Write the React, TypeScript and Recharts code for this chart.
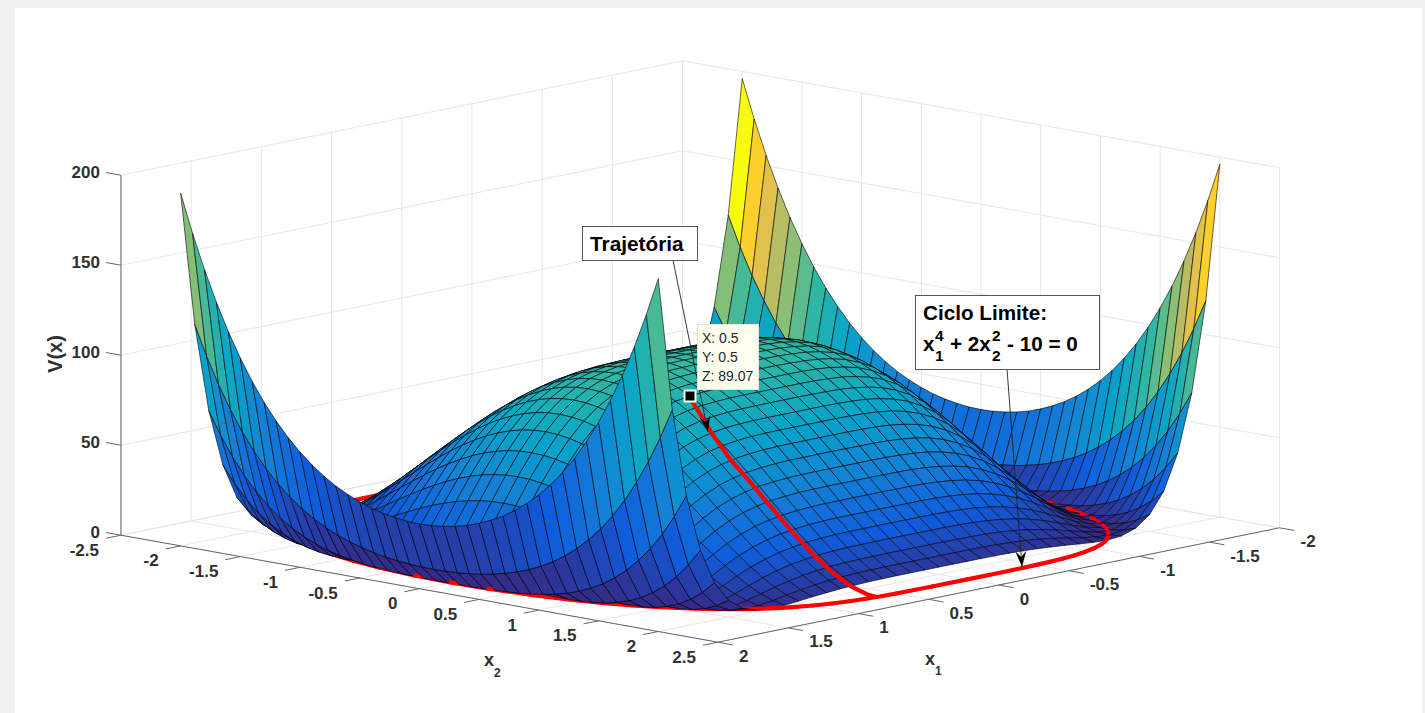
import React from "react";
import { ScatterChart, Scatter, XAxis, YAxis } from "recharts";

// mesh lines of the surface
const x1Values = [-2, -1.9, -1.8, -1.7, -1.6, -1.5, -1.4, -1.3, -1.2, -1.1, -1, -0.9, -0.8, -0.7, -0.6, -0.5, -0.4, -0.3, -0.2, -0.1, 0, 0.1, 0.2, 0.3, 0.4, 0.5, 0.6, 0.7, 0.8, 0.9, 1, 1.1, 1.2, 1.3, 1.4, 1.5, 1.6, 1.7, 1.8, 1.9, 2];
const x2Values = x1Values;

// V(x) for |x1| = 0, 0.1 .. 2 (rows) and |x2| = 0, 0.1 .. 2 (columns)
const vTable = [
  [100, 99.6, 98.4, 96.4, 93.7, 90.3, 86.1, 81.4, 76, 70.2, 64, 57.5, 50.7, 43.8, 37, 30.3, 23.8, 17.8, 12.4, 7.7, 4],
  [100, 99.6, 98.4, 96.4, 93.7, 90.2, 86.1, 81.4, 76, 70.2, 64, 57.5, 50.7, 43.8, 37, 30.2, 23.8, 17.8, 12.4, 7.7, 4],
  [100, 99.6, 98.4, 96.4, 93.7, 90.2, 86.1, 81.3, 76, 70.2, 64, 57.4, 50.7, 43.8, 36.9, 30.2, 23.8, 17.8, 12.4, 7.7, 4],
  [99.8, 99.4, 98.2, 96.3, 93.5, 90.1, 86, 81.2, 75.9, 70.1, 63.9, 57.4, 50.6, 43.7, 36.9, 30.2, 23.7, 17.7, 12.3, 7.7, 4],
  [99.5, 99.1, 97.9, 95.9, 93.2, 89.8, 85.6, 80.9, 75.6, 69.8, 63.6, 57.1, 50.3, 43.5, 36.7, 30, 23.6, 17.6, 12.2, 7.6, 3.9],
  [98.8, 98.4, 97.2, 95.2, 92.5, 89.1, 85, 80.2, 75, 69.2, 63, 56.5, 49.8, 43, 36.2, 29.6, 23.2, 17.3, 12, 7.4, 3.8],
  [97.4, 97, 95.9, 93.9, 91.2, 87.8, 83.7, 79, 73.8, 68.1, 61.9, 55.5, 48.9, 42.1, 35.4, 28.8, 22.6, 16.7, 11.5, 7, 3.5],
  [95.3, 94.9, 93.7, 91.8, 89.1, 85.8, 81.7, 77.1, 71.9, 66.3, 60.2, 53.9, 47.3, 40.7, 34.1, 27.7, 21.5, 15.8, 10.8, 6.5, 3.1],
  [92, 91.6, 90.5, 88.6, 85.9, 82.6, 78.7, 74.1, 69.1, 63.5, 57.6, 51.4, 45, 38.6, 32.2, 25.9, 20, 14.5, 9.7, 5.6, 2.5],
  [87.3, 86.9, 85.8, 84, 81.4, 78.2, 74.4, 70, 65, 59.7, 53.9, 47.9, 41.8, 35.6, 29.4, 23.5, 17.8, 12.7, 8.2, 4.5, 1.8],
  [81, 80.6, 79.6, 77.8, 75.3, 72.3, 68.6, 64.3, 59.6, 54.5, 49, 43.3, 37.5, 31.6, 25.8, 20.3, 15.1, 10.4, 6.4, 3.2, 1],
  [72.9, 72.5, 71.5, 69.8, 67.5, 64.6, 61.1, 57.1, 52.7, 47.8, 42.7, 37.4, 32, 26.6, 21.3, 16.3, 11.7, 7.6, 4.2, 1.7, 0.3],
  [62.8, 62.5, 61.6, 60, 57.9, 55.2, 51.9, 48.3, 44.2, 39.8, 35.1, 30.3, 25.5, 20.7, 16.1, 11.7, 7.9, 4.6, 2.1, 0.5, 0],
  [51, 50.8, 49.9, 48.5, 46.6, 44.1, 41.3, 38, 34.4, 30.5, 26.5, 22.3, 18.2, 14.2, 10.4, 7, 4.1, 1.9, 0.4, 0, 0.7],
  [37.9, 37.7, 37, 35.7, 34.1, 32, 29.6, 26.8, 23.8, 20.6, 17.3, 14, 10.8, 7.7, 5, 2.8, 1.1, 0.1, 0.1, 1.1, 3.4],
  [24.4, 24.2, 23.6, 22.6, 21.3, 19.7, 17.8, 15.7, 13.4, 11, 8.6, 6.3, 4.2, 2.4, 1, 0.2, 0, 0.7, 2.4, 5.2, 9.4],
  [11.9, 11.7, 11.3, 10.7, 9.8, 8.7, 7.4, 6.1, 4.7, 3.3, 2.1, 1.1, 0.3, 0, 0.2, 1.1, 2.8, 5.4, 9.2, 14.2, 20.7],
  [2.7, 2.7, 2.5, 2.2, 1.8, 1.3, 0.9, 0.5, 0.1, 0, 0.1, 0.6, 1.5, 3, 5.2, 8.1, 12.1, 17.1, 23.4, 31.1, 40.4],
  [0.3, 0.3, 0.3, 0.5, 0.7, 1, 1.5, 2.2, 3.2, 4.5, 6.2, 8.5, 11.4, 15, 19.5, 25, 31.6, 39.4, 48.7, 59.6, 72.2],
  [9.2, 9.3, 9.7, 10.3, 11.2, 12.5, 14.1, 16.1, 18.6, 21.6, 25.3, 29.7, 35, 41.1, 48.3, 56.7, 66.5, 77.7, 90.5, 105.1, 121.7],
  [36, 36.2, 37, 38.2, 39.9, 42.3, 45.2, 48.7, 53, 58.1, 64, 70.9, 78.9, 88, 98.4, 110.3, 123.7, 138.8, 155.8, 174.8, 196],
];
const vMax = 196;

// limit cycle, one quarter (x1 >= 0, x2 >= 0)
const cycleX1 = [0, 0.25, 0.5, 0.6, 0.7, 0.8, 0.9, 1, 1.1, 1.15, 1.2, 1.25, 1.3, 1.35, 1.4, 1.45, 1.5, 1.55, 1.6, 1.65, 1.7, 1.74, 1.77, 1.778];
const cycleX2 = [2.236, 2.236, 2.229, 2.222, 2.209, 2.19, 2.161, 2.121, 2.066, 2.031, 1.991, 1.944, 1.89, 1.827, 1.755, 1.67, 1.571, 1.454, 1.313, 1.138, 0.908, 0.646, 0.304, 0];

// trajectory from the data tip to the limit cycle
const trajX1 = [0.5, 0.53, 0.57, 0.6, 0.63, 0.63, 0.63, 0.63, 0.63, 0.63, 0.63, 0.63, 0.63];
const trajX2 = [0.5, 0.57, 0.7, 0.8, 0.99, 1.15, 1.32, 1.49, 1.66, 1.83, 2, 2.14, 2.22];
const trajV = [89.07, 86, 79.5, 73.8, 62.1, 51.8, 40.4, 29.2, 18.8, 9.9, 3.4, 0.46, 0];

const x1Ticks = [-2, -1.5, -1, -0.5, 0, 0.5, 1, 1.5, 2];
const x2Ticks = [-2.5, -2, -1.5, -1, -0.5, 0, 0.5, 1, 1.5, 2, 2.5];
const zTicks = [0, 50, 100, 150, 200];

// parula
const colorStops = ["#352a87", "#0f5cdd", "#1481d6", "#06a4ca", "#2eb7a4", "#87bf77", "#d1bb59", "#fec832", "#f9fb0e"];

const W = 1425;
const H = 713;
const FONT = "'Liberation Sans', Arial, sans-serif";

// view of the box: orthographic, fitted on the axis corners
const project = (x1: number, x2: number, z: number) => ({
  sx: 700.25 + 119.4 * x2 - 140.4 * x1,
  sy: 531.5 + 21.4 * x2 + 28.6 * x1 - 1.8 * z,
});
const groundDepth = (x1: number, x2: number) => 21.4 * x2 + 28.6 * x1;

const vAt = (x1: number, x2: number) =>
  vTable[Math.round(Math.abs(x1) * 10)][Math.round(Math.abs(x2) * 10)];

const hexToRgb = (h: string) => [1, 3, 5].map((i) => parseInt(h.slice(i, i + 2), 16));
function parula(v: number) {
  const t = Math.min(Math.max(v / vMax, 0), 1) * (colorStops.length - 1);
  const i = Math.min(Math.floor(t), colorStops.length - 2);
  const a = hexToRgb(colorStops[i]);
  const b = hexToRgb(colorStops[i + 1]);
  const c = a.map((u, k) => Math.round(u + (b[k] - u) * (t - i)));
  return `rgb(${c[0]},${c[1]},${c[2]})`;
}

// ---- painter's list: mesh cells and limit cycle pieces, far to near ----
type Item = { kind: "cell" | "cycle"; depth: number; verts: { sx: number; sy: number }[]; fill?: string };
const items: Item[] = [];
for (let i = 0; i < x1Values.length - 1; i++) {
  for (let j = 0; j < x2Values.length - 1; j++) {
    const a = x1Values[i];
    const b = x1Values[i + 1];
    const c = x2Values[j];
    const d = x2Values[j + 1];
    items.push({
      kind: "cell",
      depth: groundDepth((a + b) / 2, (c + d) / 2),
      fill: parula(vAt(a, c)),
      verts: [project(a, c, vAt(a, c)), project(b, c, vAt(b, c)), project(b, d, vAt(b, d)), project(a, d, vAt(a, d))],
    });
  }
}
const quarter = cycleX1.map((x, i) => [x, cycleX2[i]]);
const cycleLoop = [
  ...quarter.map(([a, b]) => [a, b]),
  ...quarter.slice().reverse().map(([a, b]) => [a, -b]),
  ...quarter.map(([a, b]) => [-a, -b]),
  ...quarter.slice().reverse().map(([a, b]) => [-a, b]),
];
for (let i = 0; i < cycleLoop.length - 1; i++) {
  const [a, b] = cycleLoop[i];
  const [c, d] = cycleLoop[i + 1];
  if (a === c && b === d) continue;
  items.push({
    kind: "cycle",
    depth: groundDepth((a + c) / 2, (b + d) / 2) + 0.5,
    verts: [project(a, b, 0), project(c, d, 0)],
  });
}
items.sort((p, q) => p.depth - q.depth);
const surfaceData = items.flatMap((it) => it.verts);

// ---- box: grid lines on the back walls and the floor ----
const seg = (a: number[], b: number[]) => [project(a[0], a[1], a[2]), project(b[0], b[1], b[2])];
const gridData = [
  ...x1Ticks.flatMap((t) => [...seg([t, -2.5, 0], [t, -2.5, 200]), ...seg([t, -2.5, 0], [t, 2.5, 0])]),
  ...x2Ticks.flatMap((t) => [...seg([-2, t, 0], [-2, t, 200]), ...seg([-2, t, 0], [2, t, 0])]),
  ...zTicks.flatMap((t) => [...seg([2, -2.5, t], [-2, -2.5, t]), ...seg([-2, -2.5, t], [-2, 2.5, t])]),
];
const axisData = [
  ...seg([2, -2.5, 0], [2, -2.5, 200]),
  ...seg([2, -2.5, 0], [2, 2.5, 0]),
  ...seg([2, 2.5, 0], [-2, 2.5, 0]),
  ...zTicks.flatMap((t) => seg([2, -2.5, t], [2, -2.625, t])),
  ...x2Ticks.flatMap((t) => seg([2, t, 0], [2.107, t, 0])),
  ...x1Ticks.flatMap((t) => seg([t, 2.5, 0], [t, 2.625, 0])),
];
const trajData = trajX1.map((x, i) => project(x, trajX2[i], trajV[i]));

const tickLabelData = [
  ...zTicks.map((t) => ({ ...project(2, -2.5, t), label: String(t), dx: -21, dy: -3, anchor: "end" })),
  ...x2Ticks.map((t) => ({ ...project(2, t, 0), label: String(t), dx: -22, dy: 15, anchor: "end" })),
  ...x1Ticks.map((t) => ({ ...project(t, 2.5, 0), label: String(t), dx: 21, dy: 14, anchor: "start" })),
];

const noDot = () => <g />;

function SegmentLines({ points, stroke, width }: any) {
  const out = [];
  for (let i = 0; i + 1 < points.length; i += 2) {
    out.push(
      <line key={i} x1={points[i].x} y1={points[i].y} x2={points[i + 1].x} y2={points[i + 1].y} stroke={stroke} strokeWidth={width} />
    );
  }
  return <g>{out}</g>;
}

function SurfaceMesh({ points }: any) {
  let k = 0;
  return (
    <g>
      {items.map((it, n) => {
        const pts = points.slice(k, k + it.verts.length);
        k += it.verts.length;
        if (it.kind === "cycle") {
          return (
            <line key={n} x1={pts[0].x} y1={pts[0].y} x2={pts[1].x} y2={pts[1].y} stroke="#ff0000" strokeWidth={4.2} strokeLinecap="round" />
          );
        }
        return (
          <polygon
            key={n}
            points={pts.map((p: any) => `${p.x},${p.y}`).join(" ")}
            fill={it.fill}
            stroke="#000"
            strokeWidth={0.7}
            strokeOpacity={0.85}
            strokeLinejoin="round"
          />
        );
      })}
    </g>
  );
}

function TickLabel(p: any) {
  const d = p.payload;
  return (
    <text x={p.cx + d.dx} y={p.cy + d.dy} textAnchor={d.anchor} dominantBaseline="central" fontFamily={FONT} fontWeight="bold" fontSize={17} fill="#303030">
      {d.label}
    </text>
  );
}

function ArrowHead({ x0, y0, x1, y1 }: { x0: number; y0: number; x1: number; y1: number }) {
  const len = Math.hypot(x1 - x0, y1 - y0);
  const ux = (x1 - x0) / len;
  const uy = (y1 - y0) / len;
  const at = (back: number, side: number) => `${x1 - ux * back - uy * side},${y1 - uy * back + ux * side}`;
  return <polygon points={[at(0, 0), at(16, 5.5), at(10, 0), at(16, -5.5)].join(" ")} fill="#000" />;
}

const annotationStyle = { fontFamily: FONT, fontWeight: "bold" as const, fill: "#000" };

function Annotations() {
  return (
    <g>
      {/* axis titles */}
      <text x={55} y={354} transform="rotate(-90 55 354)" textAnchor="middle" dominantBaseline="central" fontFamily={FONT} fontWeight="bold" fontSize={20} fill="#303030">V(x)</text>
      <text x={484} y={666} fontFamily={FONT} fontWeight="bold" fontSize={18} fill="#303030">x</text>
      <text x={494} y={677} fontFamily={FONT} fontWeight="bold" fontSize={12} fill="#303030">2</text>
      <text x={925} y={665} fontFamily={FONT} fontWeight="bold" fontSize={18} fill="#303030">x</text>
      <text x={935} y={675} fontFamily={FONT} fontWeight="bold" fontSize={12} fill="#303030">1</text>

      {/* Trajetoria note */}
      <line x1={673} y1={260} x2={708} y2={432} stroke="#222" strokeWidth={0.9} />
      <ArrowHead x0={673} y0={260} x1={708} y1={432} />
      <rect x={582.5} y={226.5} width={115} height={34} fill="#fff" stroke="#555" strokeWidth={1} />
      <text x={590} y={251} fontSize={20.8} {...annotationStyle}>Trajetória</text>

      {/* limit cycle note */}
      <line x1={1007} y1={369} x2={1022} y2={567} stroke="#222" strokeWidth={0.9} />
      <ArrowHead x0={1007} y0={369} x1={1022} y1={567} />
      <rect x={915.5} y={295.5} width={184} height={74} fill="#fff" stroke="#555" strokeWidth={1} />
      <text x={923} y={320} fontSize={20.7} {...annotationStyle}>Ciclo Limite:</text>
      <text x={923} y={351} fontSize={20.7} {...annotationStyle}>x</text>
      <text x={935} y={341} fontSize={15.5} {...annotationStyle}>4</text>
      <text x={935} y={361} fontSize={15.5} {...annotationStyle}>1</text>
      <text x={950} y={351} fontSize={20.7} {...annotationStyle}>+ 2x</text>
      <text x={992} y={341} fontSize={15.5} {...annotationStyle}>2</text>
      <text x={992} y={361} fontSize={15.5} {...annotationStyle}>2</text>
      <text x={1007} y={351} fontSize={20.7} {...annotationStyle}>- 10 = 0</text>

      {/* data tip */}
      <rect x={697.5} y={324.5} width={61} height={65} fill="#fffff0" stroke="#e4e4d6" strokeWidth={1} />
      <text x={702} y={343} fontFamily={FONT} fontSize={14} fill="#262626">X: 0.5</text>
      <text x={702} y={362} fontFamily={FONT} fontSize={14} fill="#262626">Y: 0.5</text>
      <text x={702} y={381} fontFamily={FONT} fontSize={14} fill="#262626">Z: 89.07</text>
      <rect x={684.5} y={390.5} width={11} height={11} fill="#000" stroke="#fffff0" strokeWidth={2} />
    </g>
  );
}

export default function App() {
  return (
    <div style={{ position: "absolute", left: 0, top: 0, width: W, height: H, background: "#f0f0f0", overflow: "hidden" }}>
      <div style={{ position: "absolute", left: 15, top: 8, width: 1407, height: 705, background: "#fff" }} />
      <div style={{ position: "absolute", left: 0, top: 0 }}>
        <ScatterChart width={W} height={H} margin={{ top: 0, right: 0, bottom: 0, left: 0 }}>
          <XAxis type="number" dataKey="sx" domain={[0, W]} hide />
          <YAxis type="number" dataKey="sy" domain={[0, H]} reversed hide />
          <Scatter
            data={gridData}
            isAnimationActive={false}
            shape={noDot}
            line={(p: any) => <SegmentLines points={p.points} stroke="#e6e6e6" width={1} />}
          />
          <Scatter
            data={axisData}
            isAnimationActive={false}
            shape={noDot}
            line={(p: any) => <SegmentLines points={p.points} stroke="#666" width={1} />}
          />
          <Scatter data={tickLabelData} isAnimationActive={false} shape={TickLabel} />
          <Scatter data={surfaceData} isAnimationActive={false} shape={noDot} line={(p: any) => <SurfaceMesh points={p.points} />} />
          <Scatter
            data={trajData}
            isAnimationActive={false}
            shape={noDot}
            line={{ stroke: "#ff0000", strokeWidth: 4.2, strokeLinecap: "round" }}
          />
          <Scatter data={[{ sx: 0, sy: 0 }]} isAnimationActive={false} shape={Annotations} />
        </ScatterChart>
      </div>
    </div>
  );
}
